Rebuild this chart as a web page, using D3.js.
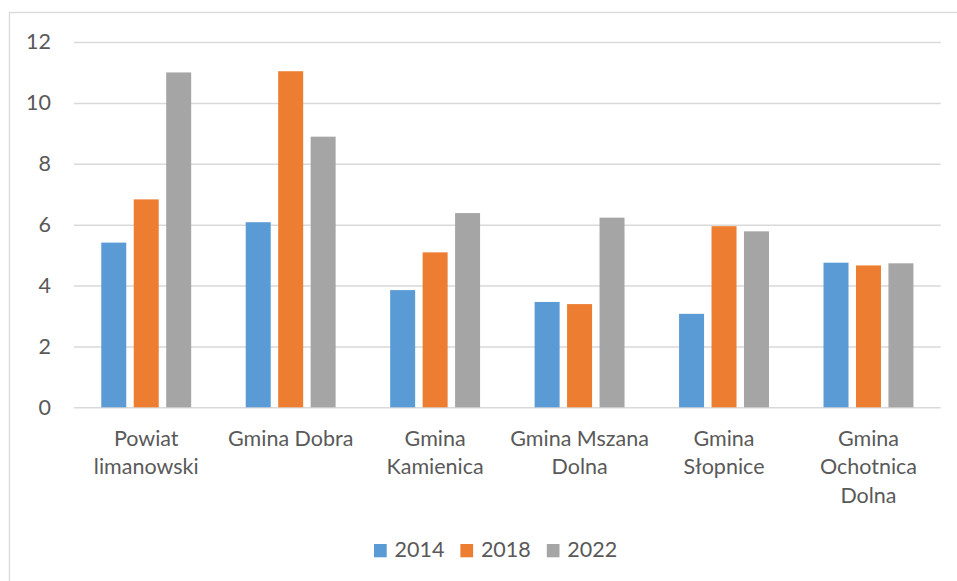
<!DOCTYPE html>
<html>
<head>
<meta charset="utf-8">
<script src="https://cdn.jsdelivr.net/npm/d3@7"></script>
<style>
  html, body { margin: 0; padding: 0; background: #ffffff; }
  svg { display: block; }
  text { font-family: Lato, "Noto Sans", sans-serif; fill: #595959; }
</style>
</head>
<body>
<svg id="chart" width="957" height="581"></svg>
<script>
// Categories (municipalities) and their wrapped axis labels
const categories = [
  "Powiat limanowski",
  "Gmina Dobra",
  "Gmina Kamienica",
  "Gmina Mszana Dolna",
  "Gmina Słopnice",
  "Gmina Ochotnica Dolna"
];
const categoryLabels = [
  ["Powiat", "limanowski"],
  ["Gmina Dobra"],
  ["Gmina", "Kamienica"],
  ["Gmina Mszana", "Dolna"],
  ["Gmina", "Słopnice"],
  ["Gmina", "Ochotnica", "Dolna"]
];

// Series by year
const years = ["2014", "2018", "2022"];
const values2014 = [5.41, 6.08, 3.85, 3.46, 3.07, 4.75];
const values2018 = [6.83, 11.04, 5.09, 3.39, 5.95, 4.66];
const values2022 = [11.0, 8.89, 6.38, 6.23, 5.78, 4.73];
const seriesValues = [values2014, values2018, values2022];
const seriesColors = ["#5B9BD5", "#ED7D31", "#A5A5A5"];

// Y axis ticks
const yTicks = [0, 2, 4, 6, 8, 10, 12];

const svg = d3.select("#chart");
const W = 957, H = 581;
const plot = { left: 74, right: 940.7, top: 42, bottom: 407.3 };
const fontSize = 21.5;

// Outer chart frame
svg.append("rect")
  .attr("x", 9.5).attr("y", 12.5)
  .attr("width", W + 10).attr("height", H + 10)
  .attr("fill", "#ffffff")
  .attr("stroke", "#D9D9D9").attr("stroke-width", 1.3);

const x0 = d3.scaleBand()
  .domain(categories)
  .range([plot.left, plot.right])
  .paddingInner(0).paddingOuter(0);

const x1 = d3.scaleBand()
  .domain(years)
  .range([0, x0.bandwidth()])
  .paddingInner(0.23)
  .paddingOuter(0.84);

const y = d3.scaleLinear()
  .domain([0, 12])
  .range([plot.bottom, plot.top]);

// Horizontal gridlines with tick labels
const yAxis = d3.axisLeft(y)
  .tickValues(yTicks)
  .tickSize(-(plot.right - plot.left))
  .tickPadding(23)
  .tickFormat(d3.format("d"));

const gy = svg.append("g")
  .attr("transform", `translate(${plot.left},0)`)
  .call(yAxis);
gy.select(".domain").remove();
gy.selectAll(".tick line")
  .attr("stroke", "#D9D9D9")
  .attr("stroke-width", 1.5);
gy.selectAll(".tick text")
  .attr("font-size", fontSize)
  .attr("fill", "#595959")
  .style("font-family", "Lato, 'Noto Sans', sans-serif");

// Bars
const rows = categories.map((c, i) => ({
  category: c,
  values: years.map((yr, s) => ({ year: yr, value: seriesValues[s][i], color: seriesColors[s] }))
}));

const groups = svg.append("g")
  .selectAll("g")
  .data(rows)
  .join("g")
  .attr("transform", d => `translate(${x0(d.category)},0)`);

groups.selectAll("rect")
  .data(d => d.values)
  .join("rect")
  .attr("x", d => x1(d.year))
  .attr("width", x1.bandwidth())
  .attr("y", d => y(d.value))
  .attr("height", d => y(0) - y(d.value))
  .attr("fill", d => d.color);

// Category labels under the axis
const xAxis = d3.axisBottom(x0).tickSize(0).tickFormat("");
const gx = svg.append("g")
  .attr("transform", `translate(0,${plot.bottom})`)
  .call(xAxis);
gx.select(".domain").remove();

gx.selectAll(".tick").each(function(d, i) {
  const t = d3.select(this).append("text")
    .attr("text-anchor", "middle")
    .attr("font-size", fontSize)
    .attr("fill", "#595959");
  categoryLabels[i].forEach((line, k) => {
    t.append("tspan")
      .attr("x", 0)
      .attr("y", 38.7 + k * 28.5)
      .text(line);
  });
});

// Legend
const legendX = d3.scaleBand()
  .domain(years)
  .range([374, 374 + 3 * 86.4]);

const legend = svg.append("g")
  .selectAll("g")
  .data(years)
  .join("g")
  .attr("transform", d => `translate(${legendX(d)},544)`);

legend.append("rect")
  .attr("width", 12.7).attr("height", 13.3)
  .attr("fill", (d, i) => seriesColors[i]);

legend.append("text")
  .attr("x", 20.5)
  .attr("y", 12.9)
  .attr("font-size", fontSize)
  .text(d => d);
</script>
</body>
</html>
